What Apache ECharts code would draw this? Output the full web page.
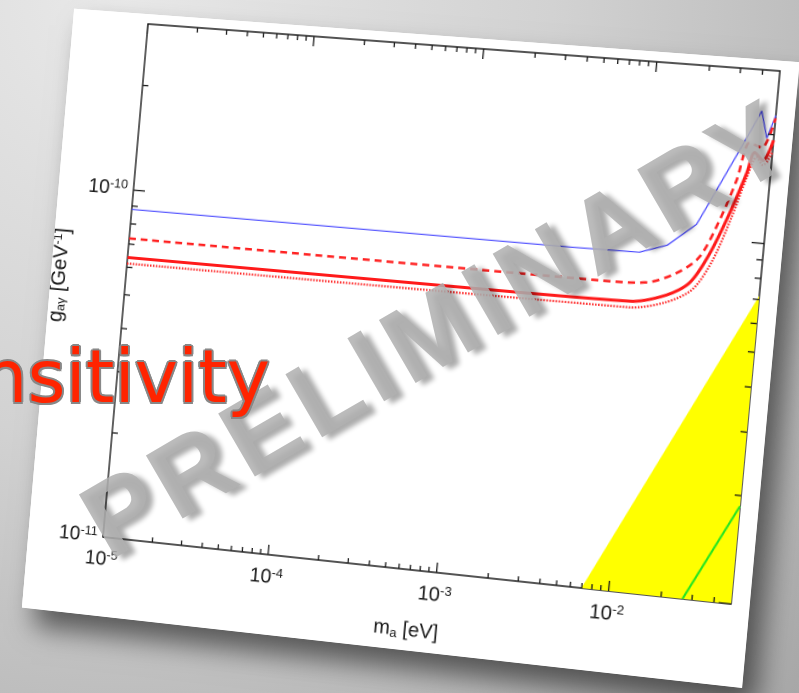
<!DOCTYPE html>
<html>
<head>
<meta charset="utf-8">
<script src="https://cdn.jsdelivr.net/npm/echarts@6.0.0/dist/echarts.min.js"></script>
<style>
html, body { margin: 0; width: 799px; height: 693px; overflow: hidden; }
body { position: relative; background: radial-gradient(ellipse at 15% 0%, #e9e9e9 0%, #d2d2d2 45%, #a8a8a8 100%); }
#paper { position: absolute; left: 0; top: 0; width: 728px; height: 616px; background: #fff; transform-origin: 0 0; box-shadow: 14px 18px 26px rgba(0,0,0,0.55); }
#main { width: 100%; height: 100%; }
#watermark { position: absolute; left: 438px; top: 327px; transform: translate(-50%, -50%) rotate(-30.2deg); font: bold 106px/1 'Liberation Sans', Arial, sans-serif; letter-spacing: 7px; color: rgba(176,176,176,0.86); text-shadow: 5px 6px 5px rgba(0,0,0,0.33); white-space: nowrap; }
#title { position: absolute; left: -110px; top: 340px; font: 73px/73px 'DejaVu Sans', sans-serif; color: #ff2400; white-space: nowrap;
  text-shadow: -2px 0 #888, 2px 0 #888, 0 -2px #888, 0 2px #888, -1.5px -1.5px #888, 1.5px -1.5px #888, -1.5px 1.5px #888, 1.5px 1.5px #888; }
</style>
</head>
<body>
<div id="paper"><div id="main"></div></div>
<div id="watermark">PRELIMINARY</div>
<div id="title">Sensitivity</div>
<script>
// axis range
var X_MIN = 1e-5, X_MAX = 5e-2;
var Y_MIN = 1e-11, Y_MAX = 3e-10;

// ticks
var xMajorTicks = [1e-5, 1e-4, 1e-3, 1e-2];
var xMinorTicks = [2e-5, 3e-5, 4e-5, 5e-5, 6e-5, 7e-5, 8e-5, 9e-5,
                   2e-4, 3e-4, 4e-4, 5e-4, 6e-4, 7e-4, 8e-4, 9e-4,
                   2e-3, 3e-3, 4e-3, 5e-3, 6e-3, 7e-3, 8e-3, 9e-3,
                   2e-2, 3e-2, 4e-2];
var yMajorTicks = [1e-11, 1e-10];
var yMinorTicks = [2e-11, 3e-11, 4e-11, 5e-11, 6e-11, 7e-11, 8e-11, 9e-11, 2e-10];

// curves [m_a (eV), g (GeV^-1)]
var blueCurve = [[1e-5, 8.8e-11], [4.1e-3, 8.8e-11], [1.0e-2, 8.85e-11], [1.43e-2, 9.4e-11], [2.04e-2, 1.09e-10],
                 [2.4e-2, 1.29e-10], [3.64e-2, 2.0e-10], [4.15e-2, 2.31e-10], [4.57e-2, 1.95e-10], [5e-2, 2.26e-10]];
var redSolid = [[1e-5, 6.4e-11], [1.7e-3, 6.4e-11], [9.3e-3, 6.44e-11], [1.5e-2, 6.84e-11], [2.0e-2, 7.5e-11], [2.5e-2, 9.1e-11],
                [3.09e-2, 1.19e-10], [3.68e-2, 1.55e-10], [3.98e-2, 1.77e-10], [4.47e-2, 1.69e-10], [5e-2, 1.93e-10]];
var redDashed = [[1e-5, 7.26e-11], [6.1e-3, 7.23e-11], [1.14e-2, 7.33e-11], [1.66e-2, 7.9e-11], [2.2e-2, 8.87e-11],
                 [2.73e-2, 1.13e-10], [3.25e-2, 1.47e-10], [3.69e-2, 1.88e-10], [4.33e-2, 1.83e-10], [5e-2, 2.22e-10]];
var redDotted = [[1e-5, 6.15e-11], [9.3e-3, 6.19e-11], [1.5e-2, 6.53e-11], [2.09e-2, 7.2e-11], [2.62e-2, 8.75e-11],
                 [3.18e-2, 1.16e-10], [3.7e-2, 1.51e-10], [4.11e-2, 1.72e-10], [4.49e-2, 1.64e-10], [5e-2, 1.79e-10]];
var axionBandEdge = [[6.97e-3, 1e-11], [5e-2, 7.17e-11]];
var ksvzLine = [[2.65e-2, 1e-11], [5e-2, 1.87e-11]];

// tilt the paper like the slide photo (plot corners -> picture corners)
function solveLinear(A, b) {
    var n = b.length;
    for (var i = 0; i < n; i++) {
        var p = i;
        for (var r = i + 1; r < n; r++) if (Math.abs(A[r][i]) > Math.abs(A[p][i])) p = r;
        var t = A[i]; A[i] = A[p]; A[p] = t;
        var tb = b[i]; b[i] = b[p]; b[p] = tb;
        for (var r2 = i + 1; r2 < n; r2++) {
            var f = A[r2][i] / A[i][i];
            for (var c = i; c < n; c++) A[r2][c] -= f * A[i][c];
            b[r2] -= f * b[i];
        }
    }
    var x = [];
    for (var k = n - 1; k >= 0; k--) {
        var s = b[k];
        for (var c2 = k + 1; c2 < n; c2++) s -= A[k][c2] * x[c2];
        x[k] = s / A[k][k];
    }
    return x;
}
function perspective(src, dst) {
    var A = [], b = [];
    for (var i = 0; i < 4; i++) {
        var x = src[i][0], y = src[i][1], u = dst[i][0], v = dst[i][1];
        A.push([x, y, 1, 0, 0, 0, -u * x, -u * y]); b.push(u);
        A.push([0, 0, 0, x, y, 1, -v * x, -v * y]); b.push(v);
    }
    var h = solveLinear(A, b);
    return 'matrix3d(' + [h[0], h[3], 0, h[6], h[1], h[4], 0, h[7], 0, 0, 1, 0, h[2], h[5], 0, 1].join(',') + ')';
}
var G = { left: 78, top: 10, width: 632, height: 525 };
document.getElementById('paper').style.transform = perspective(
    [[G.left, G.top], [G.left + G.width, G.top], [G.left, G.top + G.height], [G.left + G.width, G.top + G.height]],
    [[148, 24], [780, 71], [103, 537], [731, 604]]
);

var FONT = "'Liberation Sans', Arial, sans-serif";
var rich = {
    sup: { fontSize: 13, lineHeight: 13, verticalAlign: 'top', fontFamily: FONT, color: '#1a1a1a' },
    sub: { fontSize: 13, lineHeight: 13, verticalAlign: 'bottom', fontFamily: FONT, color: '#1a1a1a' }
};
function powerLabel(value) {
    if (!value) return '';
    var e = Math.log10(value);
    var k = Math.round(e);
    if (Math.abs(e - k) > 1e-6) return '';
    return '10{sup|' + k + '}';
}

var myChart = echarts.init(document.getElementById('main'), null, { devicePixelRatio: 2 });
var option = {
    animation: false,
    backgroundColor: '#fff',
    grid: { left: G.left, top: G.top, width: G.width, height: G.height, containLabel: false, outerBoundsMode: 'none',
            show: true, borderColor: '#1a1a1a', borderWidth: 1.4, backgroundColor: 'transparent' },
    xAxis: {
        type: 'log', logBase: 10, min: X_MIN, max: X_MAX,
        axisLine: { show: false }, axisTick: { show: false }, splitLine: { show: false },
        axisLabel: { formatter: powerLabel, margin: 12, fontSize: 20, lineHeight: 22, fontFamily: FONT, color: '#1a1a1a',
                     hideOverlap: false, showMinLabel: true, showMaxLabel: false, rich: rich },
        name: 'm{sub|a} [eV]', nameLocation: 'middle', nameGap: 50,
        nameTextStyle: { fontSize: 20, lineHeight: 22, fontFamily: FONT, color: '#1a1a1a', rich: rich }
    },
    yAxis: {
        type: 'log', logBase: 10, min: Y_MIN, max: Y_MAX,
        axisLine: { show: false }, axisTick: { show: false }, splitLine: { show: false },
        axisLabel: { formatter: powerLabel, margin: 6, fontSize: 20, lineHeight: 22, fontFamily: FONT, color: '#1a1a1a',
                     hideOverlap: false, showMinLabel: true, showMaxLabel: false, rich: rich },
        name: 'g{sub|aγ} [GeV{sup|-1}]', nameLocation: 'middle', nameGap: 52, nameRotate: 90,
        nameTextStyle: { fontSize: 21, lineHeight: 22, fontFamily: FONT, color: '#1a1a1a', rich: rich }
    },
    series: [
        {
            name: 'axion band', type: 'line', data: axionBandEdge, showSymbol: false, z: 1,
            lineStyle: { width: 0 }, areaStyle: { color: '#ffff00', opacity: 1, origin: 'start' }
        },
        { name: 'KSVZ', type: 'line', data: ksvzLine, showSymbol: false, z: 2, lineStyle: { color: '#22e622', width: 2 } },
        { name: 'blue', type: 'line', data: blueCurve, showSymbol: false, z: 3, lineStyle: { color: '#4646ff', width: 1.2 } },
        { name: 'red dotted', type: 'line', data: redDotted, showSymbol: false, smooth: 0.3, z: 3,
          lineStyle: { color: '#ff2020', width: 2.2, type: [1.5, 1.5] } },
        { name: 'red dashed', type: 'line', data: redDashed, showSymbol: false, smooth: 0.3, z: 3,
          lineStyle: { color: '#ff2020', width: 2.5, type: [7, 5] } },
        { name: 'red solid', type: 'line', data: redSolid, showSymbol: false, smooth: 0.3, z: 4,
          lineStyle: { color: '#ff1a1a', width: 3 } },
        {
            name: 'x ticks', type: 'custom', silent: true, clip: false, z: 6,
            data: xMajorTicks.map(function (v) { return [v, Y_MIN, 1]; })
                .concat(xMinorTicks.map(function (v) { return [v, Y_MIN, 0]; })),
            encode: { x: 0, y: 1 },
            renderItem: function (params, api) {
                var v = api.value(0), len = api.value(2) ? 10 : 5;
                var b = api.coord([v, Y_MIN]), t = api.coord([v, Y_MAX]);
                var st = { stroke: '#1a1a1a', lineWidth: 1.3 };
                return { type: 'group', children: [
                    { type: 'line', shape: { x1: b[0], y1: b[1], x2: b[0], y2: b[1] - len }, style: st },
                    { type: 'line', shape: { x1: t[0], y1: t[1], x2: t[0], y2: t[1] + len }, style: st }
                ] };
            }
        },
        {
            name: 'y ticks', type: 'custom', silent: true, clip: false, z: 6,
            data: yMajorTicks.map(function (v) { return [X_MIN, v, 1]; })
                .concat(yMinorTicks.map(function (v) { return [X_MIN, v, 0]; })),
            encode: { x: 0, y: 1 },
            renderItem: function (params, api) {
                var v = api.value(1), len = api.value(2) ? 12 : 6;
                var l = api.coord([X_MIN, v]), r = api.coord([X_MAX, v]);
                var st = { stroke: '#1a1a1a', lineWidth: 1.3 };
                return { type: 'group', children: [
                    { type: 'line', shape: { x1: l[0], y1: l[1], x2: l[0] + len, y2: l[1] }, style: st },
                    { type: 'line', shape: { x1: r[0], y1: r[1], x2: r[0] - len, y2: r[1] }, style: st }
                ] };
            }
        }
    ]
};
myChart.setOption(option);
</script>
</body>
</html>
